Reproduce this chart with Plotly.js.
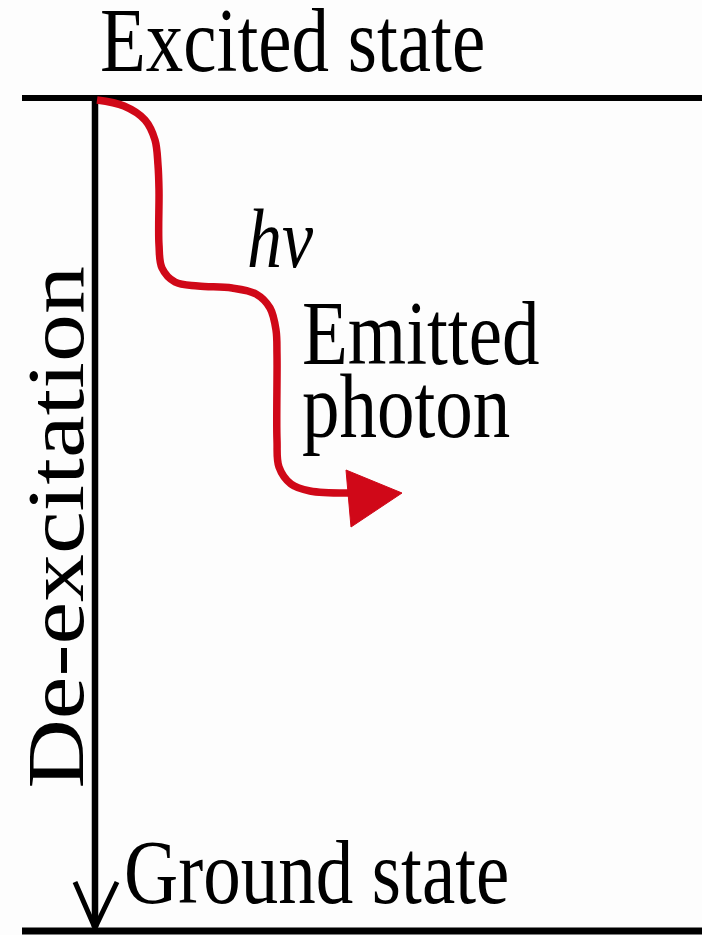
<!DOCTYPE html>
<html>
<head>
<meta charset="utf-8">
<script src="https://cdn.plot.ly/plotly-3.0.1.min.js"></script>
<style>
html,body{margin:0;padding:0;background:#fdfdfd;}
#chart{width:702px;height:935px;}
</style>
</head>
<body>
<div id="chart"></div>
<script>
// Energy levels (pixel-space diagram coordinates)
const levelNames = ["Excited state", "Ground state"];
const levelY = [98, 931];
const levelX = [22, 702];

// De-excitation arrow
const arrowShaftX = [95, 95];
const arrowShaftY = [98, 927];
const arrowHeadX = [75, 95, 117];
const arrowHeadY = [882, 928, 882];

// Emitted photon wavy path
const waveX = [97, 124, 145, 155, 158, 159, 159, 162, 175, 198, 232, 256, 270, 276, 277, 277, 279, 291, 310, 350];
const waveY = [100, 106, 120, 140, 165, 190, 245, 268, 282, 286, 288, 294, 308, 330, 355, 440, 467, 484, 491, 493];
const photonHeadX = [346, 402, 351, 346];
const photonHeadY = [470, 493, 527, 470];

// Labels
const labelText = ["Excited state", "Ground state", "De-excitation", "<i>hν</i>", "Emitted", "photon"];
const labelX = [292, 316, 56, 280, 300, 300];
const labelY = [0, 872, 528, 238, 333, 406];

const black = "#000000";
const red = "#d00818";

const traces = [
  {x: levelX, y: [levelY[0], levelY[0]], mode: "lines", line: {color: black, width: 6}},
  {x: levelX, y: [levelY[1], levelY[1]], mode: "lines", line: {color: black, width: 7}},
  {x: arrowShaftX, y: arrowShaftY, mode: "lines", line: {color: black, width: 6.5}},
  {x: arrowHeadX, y: arrowHeadY, mode: "lines", line: {color: black, width: 5}},
  {x: waveX, y: waveY, mode: "lines", line: {color: red, width: 7.5, shape: "spline", smoothing: 1}},
  {x: photonHeadX, y: photonHeadY, mode: "lines", fill: "toself", fillcolor: red, line: {color: red, width: 1}}
];

const font = {family: "Liberation Serif, Times New Roman, serif", color: black};
const annotations = labelText.map((t, i) => ({
  x: labelX[i], y: labelY[i], xref: "x", yref: "y",
  text: t, showarrow: false,
  xanchor: (i >= 4) ? "left" : "center", yanchor: (i === 0) ? "top" : "middle",
  textangle: (i === 2) ? -90 : 0,
  font: Object.assign({}, font, {size: (i === 2) ? 80 : (i === 3 ? 70 : 75)})
}));

const layout = {
  width: 702, height: 935,
  margin: {l: 0, r: 0, t: 0, b: 0},
  paper_bgcolor: "#fdfdfd", plot_bgcolor: "#fdfdfd",
  showlegend: false,
  xaxis: {range: [0, 702], visible: false, fixedrange: true},
  yaxis: {range: [935, 0], visible: false, fixedrange: true},
  annotations: annotations
};

Plotly.newPlot("chart", traces, layout, {staticPlot: true, displayModeBar: false}).then(() => {
  const groups = document.querySelectorAll("#chart .annotation");
  groups.forEach((g, i) => {
    const t = g.querySelector("text.annotation-text");
    if (!t) return;
    t.style.transformBox = "fill-box";
    t.style.transformOrigin = "center";
    t.style.transform = (i === 2) ? "scaleX(1.2)" : (i === 0 ? "translateY(-3px) scaleY(1.2)" : "scaleY(1.2)");
  });
});
</script>
</body>
</html>
